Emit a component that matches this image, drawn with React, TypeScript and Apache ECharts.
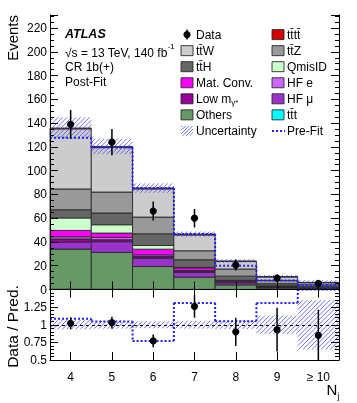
import React, { useEffect, useRef } from 'react';
import * as echarts from 'echarts';

const categories = ['4', '5', '6', '7', '8', '9', '≥ 10'];

// post-fit stack components (bottom to top)
const tttVals = [0.2, 0.2, 0.15, 0.1, 0.05, 0.03, 0.02];
const othersVals = [33.8, 31.0, 19.2, 10.3, 3.8, 1.2, 0.5];
const hfMuVals = [5.9, 9.0, 7.1, 4.0, 1.8, 0.8, 0.4];
const lowMgVals = [2.6, 1.7, 1.3, 0.8, 0.5, 0.2, 0.1];
const hfEVals = [1.9, 1.9, 1.4, 0.7, 0.4, 0.2, 0.1];
const matConvVals = [5.3, 3.7, 4.8, 2.3, 1.0, 0.5, 0.2];
const qmisIDVals = [10.5, 7.0, 3.1, 0.5, 0.2, 0.1, 0.05];
const ttHVals = [6.9, 9.9, 9.8, 6.3, 3.5, 1.8, 1.0];
const ttZVals = [17.5, 17.6, 14.1, 7.6, 6.0, 2.8, 1.6];
const ttWVals = [50.6, 37.6, 23.7, 13.3, 6.3, 2.9, 1.7];
const ttttVals = [0.7, 0.8, 0.7, 0.7, 0.5, 0.4, 0.35];

const dataVals = [139, 124, 66, 60, 20.6, 9.6, 5.2];
const dataErr = [12, 11, 8, 7.8, 4.6, 3.1, 2.3];
const preFitVals = [127.8, 119.5, 85.5, 46.8, 20.0, 7.5, 3.4];
const uncMain = [9, 6.5, 4, 2.2, 1.5, 1.3, 1.8];

const ratioVals = [1.02, 1.03, 0.77, 1.26, 0.9, 0.93, 0.85];
const ratioErr = [0.085, 0.085, 0.09, 0.16, 0.2, 0.31, 0.36];
const ratioPreFit = [1.085, 1.045, 0.77, 1.31, 1.05, 1.31, 1.6];
const ratioUnc = [0.065, 0.055, 0.05, 0.055, 0.06, 0.13, 0.35];

const mainYTicks = { min: 0, max: 231, interval: 20 };
const ratioYTicks = { min: 0.5, max: 1.5, interval: 0.25 };

const FONT = 'Liberation Sans, Arial, Helvetica, sans-serif';
const HATCH = 'rgba(70,70,245,0.75)';
const PREFIT = '#1f1fff';

const processes = [
  { name: 'ttt', color: '#00ffff', values: tttVals },
  { name: 'Others', color: '#669966', values: othersVals },
  { name: 'HF mu', color: '#9933cc', values: hfMuVals },
  { name: 'Low mg', color: '#990099', values: lowMgVals },
  { name: 'HF e', color: '#cc66ff', values: hfEVals },
  { name: 'Mat. Conv.', color: '#ff00ff', values: matConvVals },
  { name: 'QmisID', color: '#ccffcc', values: qmisIDVals },
  { name: 'ttH', color: '#666666', values: ttHVals },
  { name: 'ttZ', color: '#999999', values: ttZVals },
  { name: 'ttW', color: '#cccccc', values: ttWVals },
  { name: 'tttt', color: '#d40000', values: ttttVals },
];

function hatch(x0: number, y0: number, x1: number, y1: number, spacing: number, style: any) {
  const out: any[] = [];
  const start = Math.ceil((x0 + y0) / spacing) * spacing;
  for (let c = start; c <= x1 + y1; c += spacing) {
    const xa = Math.max(x0, c - y1);
    const xb = Math.min(x1, c - y0);
    if (xb > xa) out.push({ type: 'line', shape: { x1: xa, y1: c - xa, x2: xb, y2: c - xb }, style });
  }
  return out;
}

function clampY(y: number, cs: any) {
  return Math.max(cs.y, Math.min(cs.y + cs.height, y));
}

export default function App() {
  const ref = useRef<HTMLDivElement>(null);
  useEffect(() => {
    if (!ref.current) return;
    const chart = echarts.init(ref.current, null, { renderer: 'svg' });

    const totals = categories.map((_, i) => processes.reduce((s, p) => s + p.values[i], 0));
    const series: any[] = [];
    const cum = categories.map(() => 0);
    processes.forEach((p) => {
      const data = p.values.map((v, i) => {
        const lo = cum[i];
        cum[i] += v;
        return [i, lo, cum[i]];
      });
      series.push({
        type: 'custom',
        name: p.name,
        xAxisIndex: 0,
        yAxisIndex: 0,
        encode: { x: 0, y: [1, 2] },
        data,
        renderItem: (params: any, api: any) => {
          const i = api.value(0);
          const a = api.coord([i, api.value(1)]);
          const b = api.coord([i, api.value(2)]);
          const w = api.size([1, 0])[0];
          return {
            type: 'rect',
            shape: { x: a[0] - w / 2, y: b[1], width: w, height: a[1] - b[1] },
            style: { fill: p.color, stroke: '#2a2a2a', lineWidth: 0.9 },
          };
        },
      });
    });

    const bandSeries = (xi: number, yi: number, lo: number[], hi: number[]) => ({
      type: 'custom',
      xAxisIndex: xi,
      yAxisIndex: yi,
      encode: { x: 0, y: [1, 2] },
      data: lo.map((v, i) => [i, v, hi[i]]),
      renderItem: (params: any, api: any) => {
        const cs = params.coordSys;
        const i = api.value(0);
        const a = api.coord([i, api.value(1)]);
        const b = api.coord([i, api.value(2)]);
        const w = api.size([1, 0])[0];
        const y0 = clampY(b[1], cs);
        const y1 = clampY(a[1], cs);
        return {
          type: 'group',
          children: hatch(a[0] - w / 2, y0, a[0] + w / 2, y1, 4.5, { stroke: HATCH, lineWidth: 1 }),
        };
      },
    });

    const stepSeries = (xi: number, yi: number, vals: number[]) => ({
      type: 'custom',
      xAxisIndex: xi,
      yAxisIndex: yi,
      encode: { x: 0, y: 1 },
      data: vals.map((v, i) => [i, v, i + 1 < vals.length ? vals[i + 1] : v]),
      renderItem: (params: any, api: any) => {
        const cs = params.coordSys;
        const i = api.value(0);
        const a = api.coord([i, api.value(1)]);
        const n = api.coord([i, api.value(2)]);
        const w = api.size([1, 0])[0];
        const ya = clampY(a[1], cs);
        const yn = clampY(n[1], cs);
        const st = { stroke: PREFIT, lineWidth: 2, lineDash: [2, 2] };
        return {
          type: 'group',
          children: [
            { type: 'line', shape: { x1: a[0] - w / 2, y1: ya, x2: a[0] + w / 2, y2: ya }, style: st },
            { type: 'line', shape: { x1: a[0] + w / 2, y1: ya, x2: a[0] + w / 2, y2: yn }, style: st },
          ],
        };
      },
    });

    const pointSeries = (xi: number, yi: number, vals: number[], errs: number[], extra: any = {}) => ({
      type: 'custom',
      xAxisIndex: xi,
      yAxisIndex: yi,
      encode: { x: 0, y: 1 },
      data: vals.map((v, i) => [i, v, v - errs[i], v + errs[i]]),
      renderItem: (params: any, api: any) => {
        const cs = params.coordSys;
        const i = api.value(0);
        const c = api.coord([i, api.value(1)]);
        const lo = api.coord([i, api.value(2)]);
        const hi = api.coord([i, api.value(3)]);
        return {
          type: 'group',
          children: [
            {
              type: 'line',
              shape: { x1: c[0], y1: clampY(lo[1], cs), x2: c[0], y2: clampY(hi[1], cs) },
              style: { stroke: '#000', lineWidth: 1.5 },
            },
            { type: 'circle', shape: { cx: c[0], cy: c[1], r: 3.6 }, style: { fill: '#000' } },
          ],
        };
      },
      ...extra,
    });

    series.push(bandSeries(0, 0, totals.map((t, i) => t - uncMain[i]), totals.map((t, i) => t + uncMain[i])));
    series.push(stepSeries(0, 0, preFitVals));
    series.push(pointSeries(0, 0, dataVals, dataErr));

    series.push(bandSeries(2, 2, ratioUnc.map((u) => 1 - u), ratioUnc.map((u) => 1 + u)));
    series.push(stepSeries(2, 2, ratioPreFit));
    series.push(
      pointSeries(2, 2, ratioVals, ratioErr, {
        markLine: {
          silent: true,
          symbol: 'none',
          label: { show: false },
          lineStyle: { color: '#000', type: [3, 3], width: 1 },
          data: [{ yAxis: 1 }],
        },
      })
    );

    const xBase = (grid: number, pos: string, labels: boolean, ticks: boolean) => ({
      type: 'category',
      gridIndex: grid,
      position: pos,
      data: categories,
      boundaryGap: true,
      z: 10,
      axisLine: { show: true, lineStyle: { color: '#000', width: 1 } },
      axisTick: { show: ticks, inside: true, length: 8, alignWithLabel: true, lineStyle: { color: '#000', width: 1 } },
      axisLabel: { show: labels, fontSize: 12, color: '#000', margin: 11, fontFamily: FONT },
      splitLine: { show: false },
    });

    const yBase = (grid: number, pos: string, labels: boolean, t: any, minorSplit: number) => ({
      type: 'value',
      gridIndex: grid,
      position: pos,
      min: t.min,
      max: t.max,
      interval: t.interval,
      z: 10,
      axisLine: { show: true, lineStyle: { color: '#000', width: 1 } },
      axisTick: { show: true, inside: true, length: 8, lineStyle: { color: '#000', width: 1 } },
      minorTick: { show: true, splitNumber: minorSplit, length: 4, lineStyle: { color: '#000', width: 1 } },
      axisLabel: { show: labels, fontSize: 12, color: '#000', margin: 3, showMaxLabel: false, fontFamily: FONT },
      splitLine: { show: false },
      minorSplitLine: { show: false },
    });

    const txt = (x: number, y: number, text: string, extra: any = {}) => ({
      type: 'text',
      x,
      y,
      z: 100,
      style: { text, fill: '#000', fontSize: 12, fontFamily: FONT, verticalAlign: 'middle', ...extra },
    });

    const rowY = (k: number) => 34.6 + 16.05 * k;
    const legendItems: any[] = [];
    const box = (x: number, k: number, color: string) => ({
      type: 'rect',
      z: 100,
      shape: { x, y: rowY(k) - 5, width: 12, height: 10 },
      style: { fill: color, stroke: '#2a2a2a', lineWidth: 0.9 },
    });
    const c1 = 181, c2 = 272, t1 = 196, t2 = 287;
    // Data
    legendItems.push({ type: 'line', z: 100, shape: { x1: c1 + 6, y1: rowY(0) - 5, x2: c1 + 6, y2: rowY(0) + 5 }, style: { stroke: '#000', lineWidth: 1.5 } });
    legendItems.push({ type: 'circle', z: 100, shape: { cx: c1 + 6, cy: rowY(0), r: 3.6 }, style: { fill: '#000' } });
    legendItems.push(txt(t1, rowY(0), 'Data'));
    legendItems.push(box(c2, 0, '#d40000'), txt(t2, rowY(0), 'tt\u0304tt\u0304'));
    legendItems.push(box(c1, 1, '#cccccc'), txt(t1, rowY(1), 'tt\u0304W'));
    legendItems.push(box(c2, 1, '#999999'), txt(t2, rowY(1), 'tt\u0304Z'));
    legendItems.push(box(c1, 2, '#666666'), txt(t1, rowY(2), 'tt\u0304H'));
    legendItems.push(box(c2, 2, '#ccffcc'), txt(t2, rowY(2), 'QmisID'));
    legendItems.push(box(c1, 3, '#ff00ff'), txt(t1, rowY(3), 'Mat. Conv.'));
    legendItems.push(box(c2, 3, '#cc66ff'), txt(t2, rowY(3), 'HF e'));
    legendItems.push(box(c1, 4, '#990099'), {
      type: 'text',
      x: t1,
      y: rowY(4),
      z: 100,
      style: {
        text: '{a|Low m}{s|γ*}',
        fill: '#000',
        fontFamily: FONT,
        verticalAlign: 'middle',
        rich: {
          a: { fontSize: 12, fontFamily: FONT, lineHeight: 16, verticalAlign: 'middle' },
          s: { fontSize: 8, fontFamily: FONT, lineHeight: 16, verticalAlign: 'bottom' },
        },
      },
    });
    legendItems.push(box(c2, 4, '#9933cc'), txt(t2, rowY(4), 'HF μ'));
    legendItems.push(box(c1, 5, '#669966'), txt(t1, rowY(5), 'Others'));
    legendItems.push(box(c2, 5, '#00ffff'), txt(t2, rowY(5), 'tt\u0304t'));
    legendItems.push(
      ...hatch(c1, rowY(6) - 5, c1 + 12, rowY(6) + 5, 3.5, { stroke: HATCH, lineWidth: 1 }).map((e) => ({ ...e, z: 100 }))
    );
    legendItems.push(txt(t1, rowY(6), 'Uncertainty'));
    legendItems.push({
      type: 'line',
      z: 100,
      shape: { x1: c2, y1: rowY(6), x2: c2 + 13, y2: rowY(6) },
      style: { stroke: PREFIT, lineWidth: 2, lineDash: [2, 2] },
    });
    legendItems.push(txt(t2, rowY(6), 'Pre-Fit'));

    const labels: any[] = [
      txt(65, 33.5, 'ATLAS', { fontWeight: 'bold', fontStyle: 'italic', fontSize: 12.5 }),
      {
        type: 'text',
        x: 65,
        y: 50.5,
        z: 100,
        style: {
          text: '{a|√s = 13 TeV, 140 fb}{b|-1}',
          fill: '#000',
          fontFamily: FONT,
          verticalAlign: 'middle',
          rich: {
            a: { fontSize: 12, fontFamily: FONT, lineHeight: 16, verticalAlign: 'bottom' },
            b: { fontSize: 8, fontFamily: FONT, lineHeight: 16, verticalAlign: 'top' },
          },
        },
      },
      txt(65, 66.5, 'CR 1b(+)'),
      txt(65, 82, 'Post-Fit'),
      txt(12, 15, 'Events', { fontSize: 15, align: 'right' }),
      txt(12, 326.5, 'Data / Pred.', { fontSize: 15.5, align: 'center' }),
      txt(332, 389, 'N', { fontSize: 15, align: 'center' }),
      txt(338.5, 396, 'j', { fontSize: 8.5, align: 'center' }),
    ];
    labels[4].rotation = Math.PI / 2;
    labels[5].rotation = Math.PI / 2;

    chart.setOption({
      animation: false,
      textStyle: { fontFamily: FONT },
      grid: [
        { left: 50, top: 15, width: 289, height: 274.5, show: false },
        { left: 50, top: 289.5, width: 289, height: 70.5, show: false },
      ],
      xAxis: [xBase(0, 'bottom', false, true), xBase(0, 'top', false, true), xBase(1, 'bottom', true, true), xBase(1, 'top', false, false)],
      yAxis: [yBase(0, 'left', true, mainYTicks, 4), yBase(0, 'right', false, mainYTicks, 4), yBase(1, 'left', true, ratioYTicks, 5), yBase(1, 'right', false, ratioYTicks, 5)],
      series,
      graphic: [...legendItems, ...labels],
    });
    return () => chart.dispose();
  }, []);
  return <div ref={ref} style={{ position: 'fixed', left: 0, top: 0, width: 357, height: 403 }} />;
}
